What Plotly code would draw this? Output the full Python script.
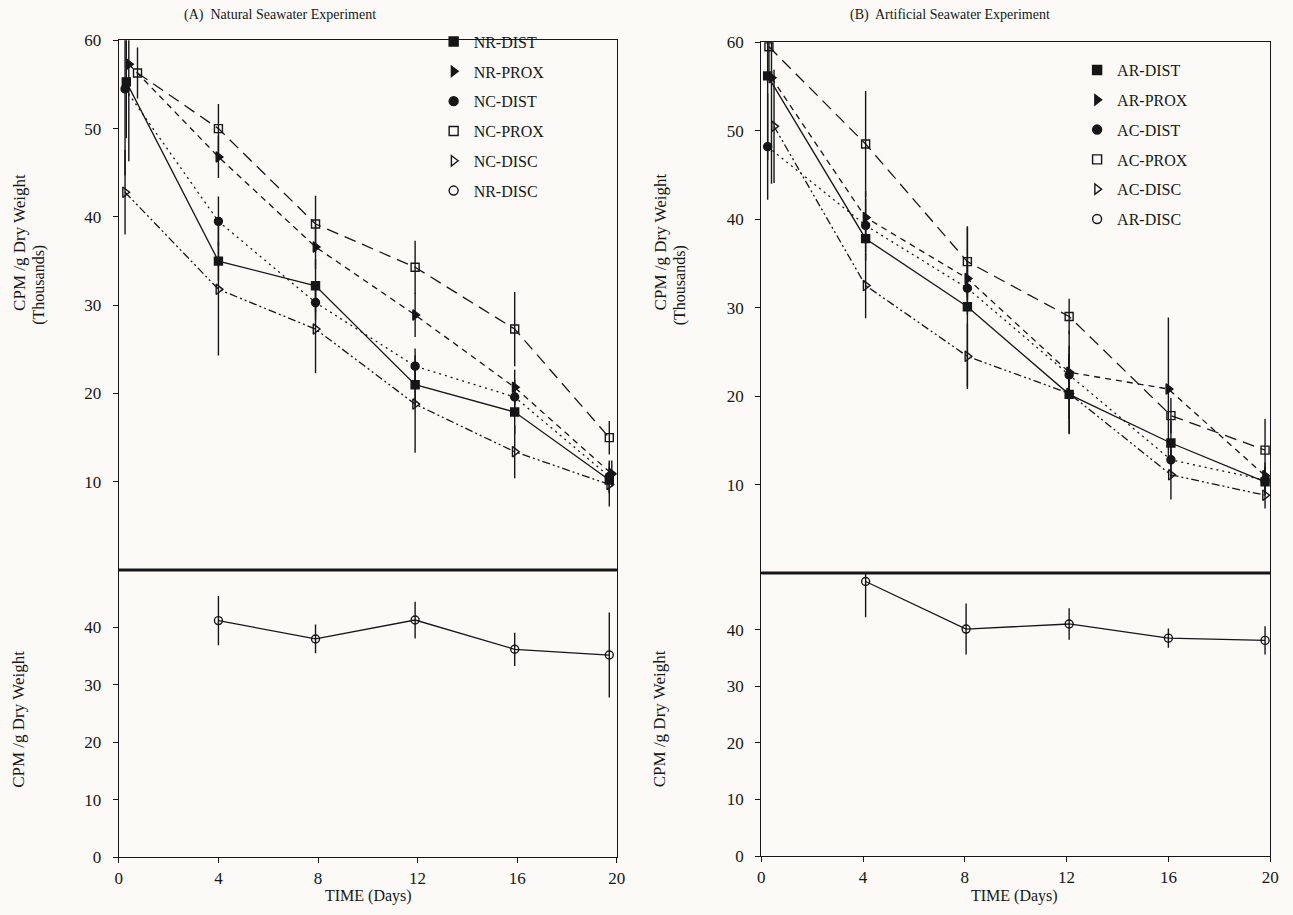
import plotly.graph_objects as go

# ---------------- data: panel A (Natural seawater) ----------------
a_nr_dist_x = [0.3, 4.0, 7.9, 11.9, 15.9, 19.7]
a_nr_dist_y = [55.3, 35.0, 32.2, 21.0, 17.9, 10.2]
a_nr_dist_e = [6.4, 2.2, 3.0, 2.5, 2.5, 1.5]

a_nr_prox_x = [0.4, 4.0, 7.9, 11.9, 15.9, 19.8]
a_nr_prox_y = [57.3, 46.8, 36.6, 28.9, 20.7, 10.9]
a_nr_prox_e = [11.0, 2.4, 2.5, 2.5, 2.0, 1.5]

a_nc_dist_x = [0.25, 4.0, 7.9, 11.9, 15.9, 19.7]
a_nc_dist_y = [54.5, 39.5, 30.3, 23.1, 19.6, 10.6]
a_nc_dist_e = [9.8, 2.8, 2.0, 2.0, 2.0, 1.8]

a_nc_prox_x = [0.75, 4.0, 7.9, 11.9, 15.9, 19.7]
a_nc_prox_y = [56.3, 50.0, 39.2, 34.3, 27.3, 15.0]
a_nc_prox_e = [2.9, 2.8, 3.2, 3.0, 4.2, 1.9]

a_nc_disc_x = [0.25, 4.0, 7.9, 11.9, 15.9, 19.7]
a_nc_disc_y = [42.8, 31.8, 27.3, 18.8, 13.4, 9.7]
a_nc_disc_e = [4.8, 7.5, 5.0, 5.5, 3.0, 2.5]

a_nr_disc_x = [4.0, 7.9, 11.9, 15.9, 19.7]
a_nr_disc_y = [41.2, 38.0, 41.3, 36.2, 35.2]
a_nr_disc_e = [4.3, 2.5, 3.2, 2.9, 7.4]

# ---------------- data: panel B (Artificial seawater) ----------------
b_ar_dist_x = [0.25, 4.1, 8.1, 12.1, 16.1, 19.8]
b_ar_dist_y = [56.2, 37.8, 30.1, 20.2, 14.7, 10.3]
b_ar_dist_e = [9.5, 2.5, 9.0, 4.5, 2.5, 1.5]

b_ar_prox_x = [0.4, 4.1, 8.1, 12.1, 16.0, 19.8]
b_ar_prox_y = [56.0, 40.2, 33.3, 22.7, 20.8, 11.0]
b_ar_prox_e = [12.0, 3.0, 2.5, 3.0, 8.1, 1.5]

b_ac_dist_x = [0.25, 4.1, 8.1, 12.1, 16.1, 19.8]
b_ac_dist_y = [48.2, 39.3, 32.2, 22.4, 12.8, 10.5]
b_ac_dist_e = [6.0, 3.0, 3.0, 5.0, 2.0, 1.5]

b_ac_prox_x = [0.3, 4.1, 8.1, 12.1, 16.1, 19.8]
b_ac_prox_y = [59.5, 48.5, 35.2, 29.0, 17.8, 13.9]
b_ac_prox_e = [3.0, 6.0, 4.0, 2.0, 2.0, 3.5]

b_ac_disc_x = [0.5, 4.1, 8.1, 12.1, 16.1, 19.8]
b_ac_disc_y = [50.5, 32.5, 24.5, 20.3, 11.1, 8.8]
b_ac_disc_e = [6.4, 3.7, 3.7, 4.5, 2.8, 1.5]

b_ar_disc_x = [4.1, 8.05, 12.1, 16.0, 19.8]
b_ar_disc_y = [48.5, 40.1, 41.0, 38.5, 38.1]
b_ar_disc_e = [6.3, 4.5, 2.8, 1.7, 2.5]

x_ticks = [0, 4, 8, 12, 16, 20]
upper_y_ticks = [10, 20, 30, 40, 50, 60]
lower_y_ticks = [0, 10, 20, 30, 40]

names_a = ["NR-DIST", "NR-PROX", "NC-DIST", "NC-PROX", "NC-DISC", "NR-DISC"]
names_b = ["AR-DIST", "AR-PROX", "AC-DIST", "AC-PROX", "AC-DISC", "AR-DISC"]

# ---------------- styles ----------------
INK = "#161616"
BG = "#fbfaf7"
FONT = "Liberation Serif"
symbols = ["square", "triangle-right", "circle", "square-open", "triangle-right-open", "circle-open"]
dashes = ["solid", "6px,5px", "2px,4px", "12px,7px", "8px,3px,2px,3px,2px,3px", "solid"]
msize = [8, 9, 8, 8, 9, 8]

fig = go.Figure()

def add_series(x, y, e, k, xa, ya):
    fig.add_trace(go.Scatter(
        x=x, y=y, mode="lines+markers", xaxis=xa, yaxis=ya, showlegend=False,
        line=dict(color=INK, width=1.3, dash=dashes[k]),
        marker=dict(symbol=symbols[k], size=msize[k], color=INK,
                    line=dict(color=INK, width=1.4)),
        error_y=dict(type="data", array=e, visible=True, color=INK, thickness=1.4, width=0),
        cliponaxis=True))

a_series = [(a_nr_dist_x, a_nr_dist_y, a_nr_dist_e), (a_nr_prox_x, a_nr_prox_y, a_nr_prox_e),
            (a_nc_dist_x, a_nc_dist_y, a_nc_dist_e), (a_nc_prox_x, a_nc_prox_y, a_nc_prox_e),
            (a_nc_disc_x, a_nc_disc_y, a_nc_disc_e)]
for k, (x, y, e) in enumerate(a_series):
    add_series(x, y, e, k, "x", "y")
add_series(a_nr_disc_x, a_nr_disc_y, a_nr_disc_e, 5, "x2", "y2")

b_series = [(b_ar_dist_x, b_ar_dist_y, b_ar_dist_e), (b_ar_prox_x, b_ar_prox_y, b_ar_prox_e),
            (b_ac_dist_x, b_ac_dist_y, b_ac_dist_e), (b_ac_prox_x, b_ac_prox_y, b_ac_prox_e),
            (b_ac_disc_x, b_ac_disc_y, b_ac_disc_e)]
for k, (x, y, e) in enumerate(b_series):
    add_series(x, y, e, k, "x3", "y3")
add_series(b_ar_disc_x, b_ar_disc_y, b_ar_disc_e, 5, "x4", "y4")

# legend-only entries (markers only, as in the reference)
for k, nm in enumerate(names_a):
    fig.add_trace(go.Scatter(x=[None], y=[None], mode="markers", name=nm, legend="legend",
                             legendgroup="a%d" % k, xaxis="x", yaxis="y",
                             marker=dict(symbol=symbols[k], size=9, color=INK, line=dict(color=INK, width=1.4))))
for k, nm in enumerate(names_b):
    fig.add_trace(go.Scatter(x=[None], y=[None], mode="markers", name=nm, legend="legend2",
                             legendgroup="b%d" % k, xaxis="x3", yaxis="y3",
                             marker=dict(symbol=symbols[k], size=9, color=INK, line=dict(color=INK, width=1.4))))

W, H = 1293, 915
def px_x(p): return p / W
def px_y(p): return 1 - p / H

A_X = [px_x(116), px_x(619)]
B_X = [px_x(765), px_x(1279)]
A_UP = [px_y(573), px_y(32)]
A_LO = [px_y(866), px_y(573)]
B_UP = [px_y(576), px_y(34)]
B_LO = [px_y(865), px_y(576)]

axis_common = dict(showline=True, linecolor=INK, linewidth=1.4, mirror=True, showgrid=False,
                   zeroline=False, tickfont=dict(family=FONT, size=17, color=INK),
                   tickcolor=INK, tickwidth=1.3, ticklen=5)

fig.update_layout(
    width=W, height=H, margin=dict(l=0, r=0, t=0, b=0),
    paper_bgcolor=BG, plot_bgcolor=BG,
    font=dict(family=FONT, color=INK),
    xaxis=dict(domain=A_X, range=[0, 20], anchor="y", showticklabels=False, ticks="",
               tickvals=x_ticks, **axis_common),
    yaxis=dict(domain=A_UP, range=[0, 60], anchor="x", tickvals=upper_y_ticks, ticks="outside",
               ticklabelstandoff=8, **axis_common),
    xaxis2=dict(domain=A_X, range=[0, 20], anchor="y2", tickvals=x_ticks, ticks="outside",
                ticklabelstandoff=0, **axis_common),
    yaxis2=dict(domain=A_LO, range=[0, 50], anchor="x2", tickvals=lower_y_ticks, ticks="outside",
                ticklabelstandoff=8, **axis_common),
    xaxis3=dict(domain=B_X, range=[0, 20], anchor="y3", showticklabels=False, ticks="",
                tickvals=x_ticks, **axis_common),
    yaxis3=dict(domain=B_UP, range=[0, 60], anchor="x3", tickvals=upper_y_ticks, ticks="outside",
                ticklabelstandoff=8, **axis_common),
    xaxis4=dict(domain=B_X, range=[0, 20], anchor="y4", tickvals=x_ticks, ticks="outside",
                ticklabelstandoff=0, **axis_common),
    yaxis4=dict(domain=B_LO, range=[0, 50], anchor="x4", tickvals=lower_y_ticks, ticks="outside",
                ticklabelstandoff=8, **axis_common),
    legend=dict(x=px_x(434), y=px_y(16), xanchor="left", yanchor="top", bgcolor="rgba(0,0,0,0)",
                font=dict(family=FONT, size=16, color=INK), tracegroupgap=6, itemwidth=30),
    legend2=dict(x=px_x(1084), y=px_y(45), xanchor="left", yanchor="top", bgcolor="rgba(0,0,0,0)",
                 font=dict(family=FONT, size=16, color=INK), tracegroupgap=6, itemwidth=30),
    showlegend=True,
)

# thick divider lines between upper and lower panels
for dom, yy in ((A_X, A_UP[0]), (B_X, B_UP[0])):
    fig.add_shape(type="line", xref="paper", yref="paper", x0=dom[0], x1=dom[1],
                  y0=yy, y1=yy, line=dict(color=INK, width=3))

ann = []
def note(text, xp, yp, size=15, angle=0, yanchor="middle", yshift=0):
    ann.append(dict(text=text, x=px_x(xp), y=px_y(yp), xref="paper", yref="paper", showarrow=False,
                    textangle=angle, font=dict(family=FONT, size=size, color=INK),
                    xanchor="center", yanchor=yanchor, yshift=yshift))

note("(A)  Natural Seawater Experiment", 279, 0, 14, yanchor="top", yshift=4)
note("(B)  Artificial Seawater Experiment", 956, 0, 14, yanchor="top", yshift=4)
note("TIME (Days)", 368, 915, 16, yanchor="bottom", yshift=-2)
note("TIME (Days)", 1021, 915, 16, yanchor="bottom", yshift=-2)
for xo in (0, 648):
    note("CPM /g Dry Weight", 15 + xo, 238, 17, -90)
    note("(Thousands)", 35 + xo, 282, 16, -90)
    note("CPM /g Dry Weight", 15 + xo, 725, 17, -90)
fig.update_layout(annotations=ann)

fig.write_html("out.html")
